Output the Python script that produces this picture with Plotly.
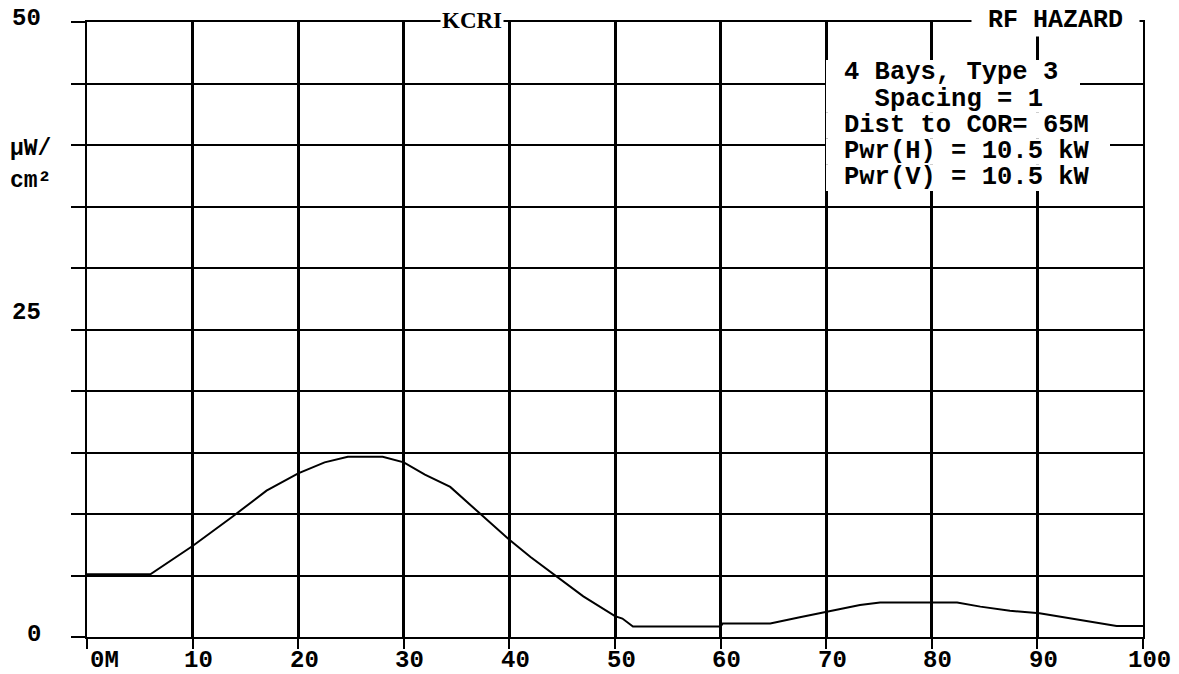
import plotly.graph_objects as go

# ---- data ----
distance_m = [0, 6, 10, 13.8, 17, 20, 22.5, 24.7, 28, 30, 32, 34.4, 37, 40, 42, 44.3, 47, 50,
              50.7, 51.7, 60, 60.2, 64.7, 67.5, 70, 73.2, 75.1, 82.4, 84.6, 87.4, 90.2, 93.1, 97.5, 100]
power_density = [5.1, 5.1, 7.4, 9.8, 11.9, 13.3, 14.2, 14.65, 14.65, 14.2, 13.2, 12.2, 10.2, 7.9, 6.5, 5.0, 3.3, 1.7,
                 1.5, 0.85, 0.85, 1.1, 1.1, 1.6, 2.05, 2.6, 2.8, 2.8, 2.47, 2.14, 1.93, 1.52, 0.9, 0.9]
x_tick_vals = [0, 10, 20, 30, 40, 50, 60, 70, 80, 90, 100]
x_tick_text = ["0M", "10", "20", "30", "40", "50", "60", "70", "80", "90", "100"]
y_label_vals = [0, 25, 50]
y_label_text = ["0", "25", "50"]
info_lines = ["4 Bays, Type 3", "  Spacing = 1", "Dist to COR= 65M", "Pwr(H) = 10.5 kW", "Pwr(V) = 10.5 kW"]
title_left = "KCRI"
title_right = "RF HAZARD"
unit_lines = ["µW/", "cm²"]

W, H = 1179, 674
L, R, T, B = 87, 1143, 22, 637

def px(x):
    return (x - L) / (R - L)

def py(y):
    return (B - y) / (B - T)

MONO = "Liberation Mono"
fig = go.Figure()
fig.add_trace(go.Scatter(x=distance_m, y=power_density, mode="lines",
                         line=dict(color="black", width=2), hoverinfo="skip", showlegend=False))

fig.update_layout(
    width=W, height=H,
    margin=dict(l=L, r=W - R, t=T, b=H - B, pad=0),
    paper_bgcolor="white", plot_bgcolor="white",
    showlegend=False,
    xaxis=dict(range=[0, 100], tickvals=x_tick_vals, showticklabels=False,
               ticks="outside", ticklen=10, tickwidth=2, tickcolor="black",
               showgrid=True, gridcolor="black", gridwidth=2.5,
               showline=True, linecolor="black", linewidth=2, mirror=True, zeroline=False),
    yaxis=dict(range=[0, 50], dtick=5, tick0=0, showticklabels=False,
               ticks="outside", ticklen=14, tickwidth=2, tickcolor="black",
               showgrid=True, gridcolor="black", gridwidth=1.6,
               showline=True, linecolor="black", linewidth=2, mirror=True, zeroline=False),
)

anns = []
# x tick labels
for v, t in zip(x_tick_vals, x_tick_text):
    shift = 17 if t == "0M" else 6
    anns.append(dict(x=v, y=0, xref="x", yref="paper", text=t, showarrow=False,
                     xanchor="center", yanchor="middle", xshift=shift, yshift=-(660 - B),
                     font=dict(family=MONO, size=24, color="black", weight=700)))
# y labels
y_offsets = {0: 3, 25: 17, 50: 4}
for v, t in zip(y_label_vals, y_label_text):
    anns.append(dict(x=0, y=v, xref="paper", yref="y", text=t, showarrow=False,
                     xanchor="right", yanchor="middle", xshift=-(L - 43), yshift=y_offsets[v],
                     font=dict(family=MONO, size=24, color="black", weight=700)))
# unit label
for i, t in enumerate(unit_lines):
    anns.append(dict(x=px(8), y=py(149 + 32 * i), xref="paper", yref="paper", text=t, showarrow=False,
                     xanchor="left", yanchor="middle",
                     font=dict(family=MONO, size=23, color="black", weight=700)))
# titles
anns.append(dict(x=px(472), y=py(20), xref="paper", yref="paper", text=title_left, showarrow=False,
                 xanchor="center", yanchor="middle", bgcolor="white", borderpad=1,
                 font=dict(family="Liberation Serif", size=23, color="black", weight=700)))
anns.append(dict(x=px(1055), y=py(20), xref="paper", yref="paper", text="\u00a0" + title_right + "\u00a0",
                 xanchor="center", yanchor="middle", bgcolor="white", borderpad=1, showarrow=False,
                 font=dict(family=MONO, size=25, color="black", weight=700)))

# info box: white backing per text line, then text
bg_extents = [(826, 1080), (826, 1080), (826, 1110), (826, 1110), (826, 1110)]
shapes = []
line_h = 26.2
for i, t in enumerate(info_lines):
    cy = 73 + line_h * i
    x0, x1 = bg_extents[i]
    shapes.append(dict(type="rect", xref="paper", yref="paper", layer="above",
                       x0=px(x0), x1=px(x1), y0=py(cy + line_h / 2), y1=py(cy - line_h / 2),
                       fillcolor="white", line=dict(width=0)))
    anns.append(dict(x=px(843), y=py(cy), xref="paper", yref="paper", text=t.replace(" ", "\u00a0"),
                     showarrow=False, xanchor="left", yanchor="middle", borderpad=0,
                     font=dict(family=MONO, size=25.5, color="black", weight=700)))

fig.update_layout(annotations=anns, shapes=shapes)
fig.write_html("out.html", config={"displayModeBar": False},
               post_script="document.body.style.margin='0';document.body.style.padding='0';")
